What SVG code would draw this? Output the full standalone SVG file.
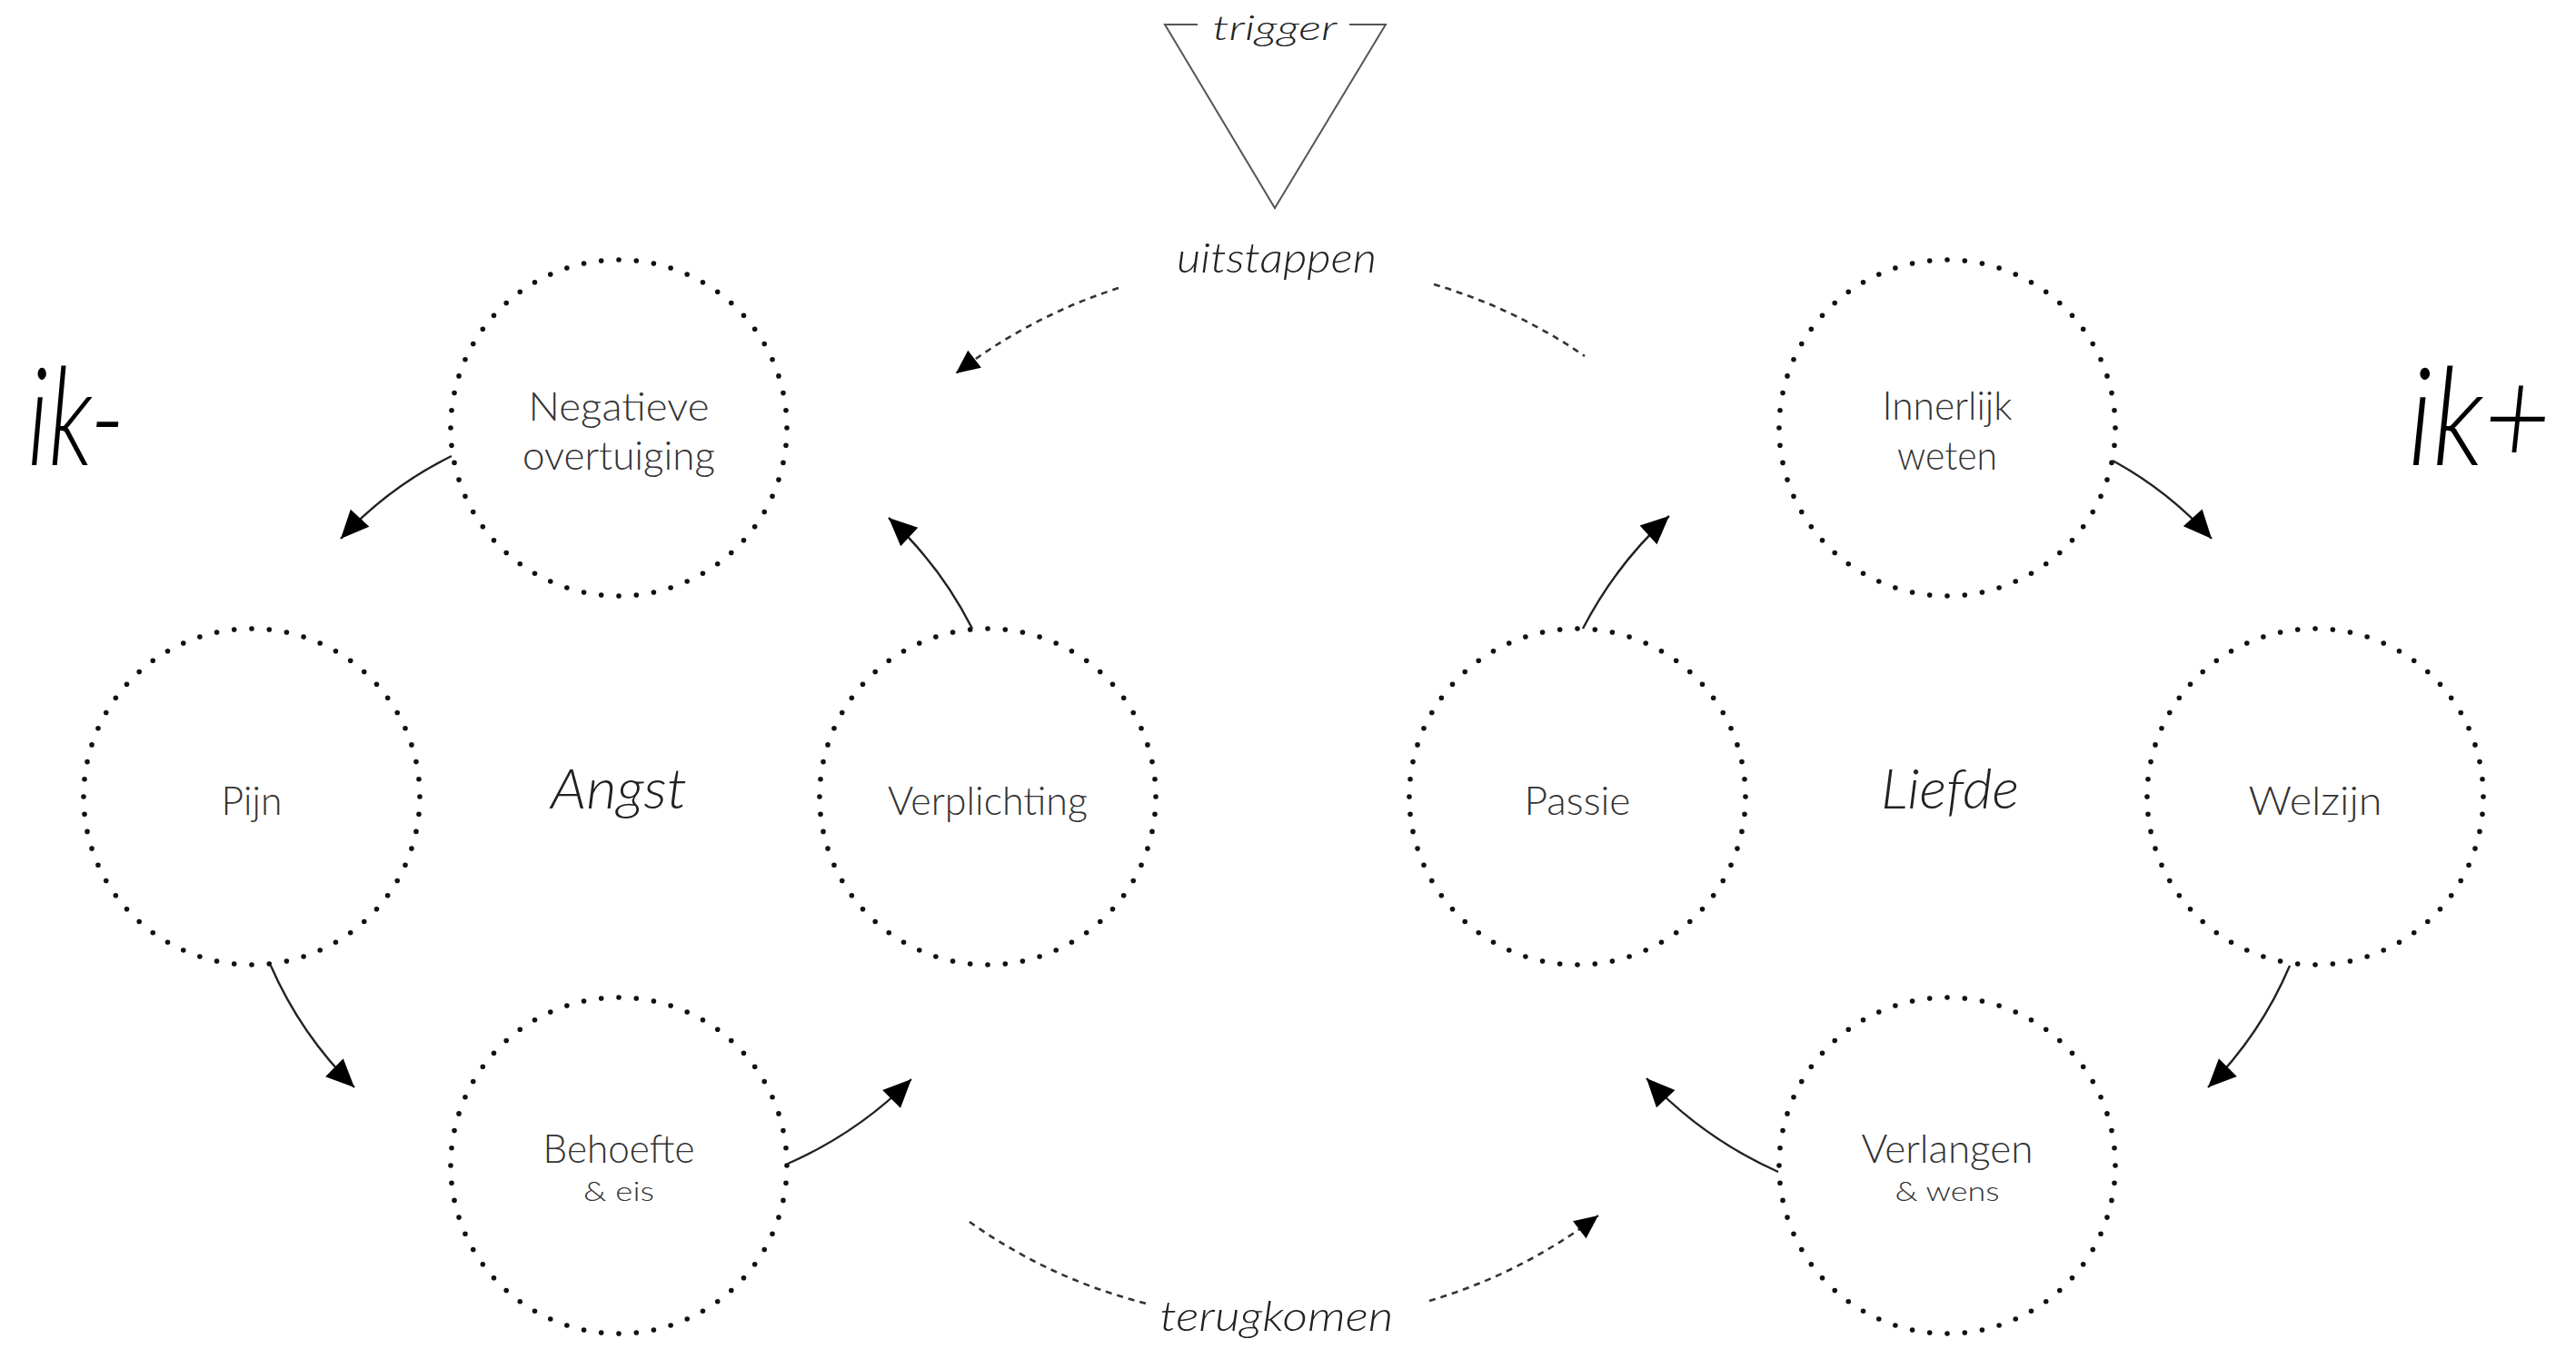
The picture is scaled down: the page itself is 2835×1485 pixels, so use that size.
<svg xmlns="http://www.w3.org/2000/svg" width="2835" height="1485" viewBox="0 0 2835 1485">
<defs>
<style>
.node circle{fill:none;stroke:#111;stroke-width:5.6;stroke-linecap:round;stroke-dasharray:0 1}
.lbl{font-family:Lato,"Open Sans","Liberation Sans",sans-serif;font-weight:300;fill:#333;text-anchor:middle}
.main{font-size:44px}
.sub{font-size:30px}
.it{font-family:Lato,"Open Sans","Liberation Sans",sans-serif;font-weight:300;font-style:italic;fill:#222;text-anchor:middle}
.big{font-family:Lato,"Open Sans","Liberation Sans",sans-serif;font-weight:300;font-style:italic;fill:#000;font-size:150px}
.arr{fill:none;stroke:#222;stroke-width:2.4}
.dash{fill:none;stroke:#333;stroke-width:2.6;stroke-dasharray:7 6}
.tri{fill:none;stroke:#555;stroke-width:2}
</style>
<marker id="ah" markerUnits="userSpaceOnUse" markerWidth="38" markerHeight="34" viewBox="-34 -17 38 34" refX="0" refY="0" orient="auto">
<path d="M0,0 L-31,-14 L-31,14 Z" fill="#000"/>
</marker>
<marker id="ahs" markerUnits="userSpaceOnUse" markerWidth="32" markerHeight="30" viewBox="-29 -15 32 30" refX="0" refY="0" orient="auto">
<path d="M0,0 L-26,-12 L-26,12 Z" fill="#000"/>
</marker>
</defs>
<rect width="2835" height="1485" fill="#fff"/>

<g id="trigger">
<path class="tri" d="M1318,27 L1282,27 L1403,229 L1525,27 L1485,27"/>
<text class="it" x="1403" y="44" font-size="38" textLength="137" lengthAdjust="spacingAndGlyphs">trigger</text>
</g>

<g id="ik-minus"><text class="big" x="30" y="512" textLength="108" lengthAdjust="spacingAndGlyphs">ik-</text></g>
<g id="ik-plus"><text class="big" x="2650" y="512" textLength="157" lengthAdjust="spacingAndGlyphs">ik+</text></g>

<g id="angst"><text class="it" x="681" y="890" font-size="62" textLength="150" lengthAdjust="spacingAndGlyphs">Angst</text></g>
<g id="liefde"><text class="it" x="2146" y="890" font-size="62" textLength="152" lengthAdjust="spacingAndGlyphs">Liefde</text></g>

<g id="negatieve-overtuiging" class="node">
<circle cx="681" cy="471" r="185" pathLength="60"/>
<text class="lbl main" x="681" y="463" textLength="199" lengthAdjust="spacingAndGlyphs">Negatieve</text>
<text class="lbl main" x="681" y="517" textLength="212" lengthAdjust="spacingAndGlyphs">overtuiging</text>
</g>
<g id="pijn" class="node">
<circle cx="277" cy="877" r="185" pathLength="60"/>
<text class="lbl main" x="277" y="897" textLength="67" lengthAdjust="spacingAndGlyphs">Pijn</text>
</g>
<g id="verplichting" class="node">
<circle cx="1087" cy="877" r="185" pathLength="60"/>
<text class="lbl main" x="1087" y="897" textLength="220" lengthAdjust="spacingAndGlyphs">Verplichting</text>
</g>
<g id="behoefte" class="node">
<circle cx="681" cy="1283" r="185" pathLength="60"/>
<text class="lbl main" x="681" y="1280" textLength="167" lengthAdjust="spacingAndGlyphs">Behoefte</text>
<text class="lbl sub" x="681" y="1322" textLength="78" lengthAdjust="spacingAndGlyphs">&amp; eis</text>
</g>
<g id="passie" class="node">
<circle cx="1736" cy="877" r="185" pathLength="60"/>
<text class="lbl main" x="1736" y="897" textLength="117" lengthAdjust="spacingAndGlyphs">Passie</text>
</g>
<g id="innerlijk-weten" class="node">
<circle cx="2143" cy="471" r="185" pathLength="60"/>
<text class="lbl main" x="2143" y="462" textLength="143" lengthAdjust="spacingAndGlyphs">Innerlijk</text>
<text class="lbl main" x="2143" y="517" textLength="110" lengthAdjust="spacingAndGlyphs">weten</text>
</g>
<g id="welzijn" class="node">
<circle cx="2548" cy="877" r="185" pathLength="60"/>
<text class="lbl main" x="2548" y="897" textLength="147" lengthAdjust="spacingAndGlyphs">Welzijn</text>
</g>
<g id="verlangen" class="node">
<circle cx="2143" cy="1283" r="185" pathLength="60"/>
<text class="lbl main" x="2143" y="1280" textLength="189" lengthAdjust="spacingAndGlyphs">Verlangen</text>
<text class="lbl sub" x="2143" y="1322" textLength="115" lengthAdjust="spacingAndGlyphs">&amp; wens</text>
</g>

<g id="connectors">
<path class="arr" marker-end="url(#ah)" d="M497,502 A420,420 0 0 0 375,593"/>
<path class="arr" marker-end="url(#ah)" d="M298,1063 A430,430 0 0 0 390,1197"/>
<path class="arr" marker-end="url(#ah)" d="M867,1281 A445,445 0 0 0 1003,1188"/>
<path class="arr" marker-end="url(#ah)" d="M1070,692 A430,430 0 0 0 978,570"/>
<path class="arr" marker-end="url(#ah)" d="M1742,692 A440,440 0 0 1 1837,568"/>
<path class="arr" marker-end="url(#ah)" d="M2325,507 A412,412 0 0 1 2434,593"/>
<path class="arr" marker-end="url(#ah)" d="M2520,1063 A425,425 0 0 1 2430,1197"/>
<path class="arr" marker-end="url(#ah)" d="M1957,1290 A452,452 0 0 1 1812,1187"/>
<path class="dash" marker-end="url(#ahs)" d="M1231,317 A588,588 0 0 0 1052,411"/>
<path class="dash" d="M1578,313 A588,588 0 0 1 1744,392"/>
<path class="dash" d="M1067,1345 A578,578 0 0 0 1266,1436"/>
<path class="dash" marker-end="url(#ahs)" d="M1573,1432 A578,578 0 0 0 1759,1338"/>
</g>

<g id="labels">
<text class="it" x="1405" y="300" font-size="46" textLength="220" lengthAdjust="spacingAndGlyphs">uitstappen</text>
<text class="it" x="1405" y="1465" font-size="46" textLength="257" lengthAdjust="spacingAndGlyphs">terugkomen</text>
</g>
</svg>
